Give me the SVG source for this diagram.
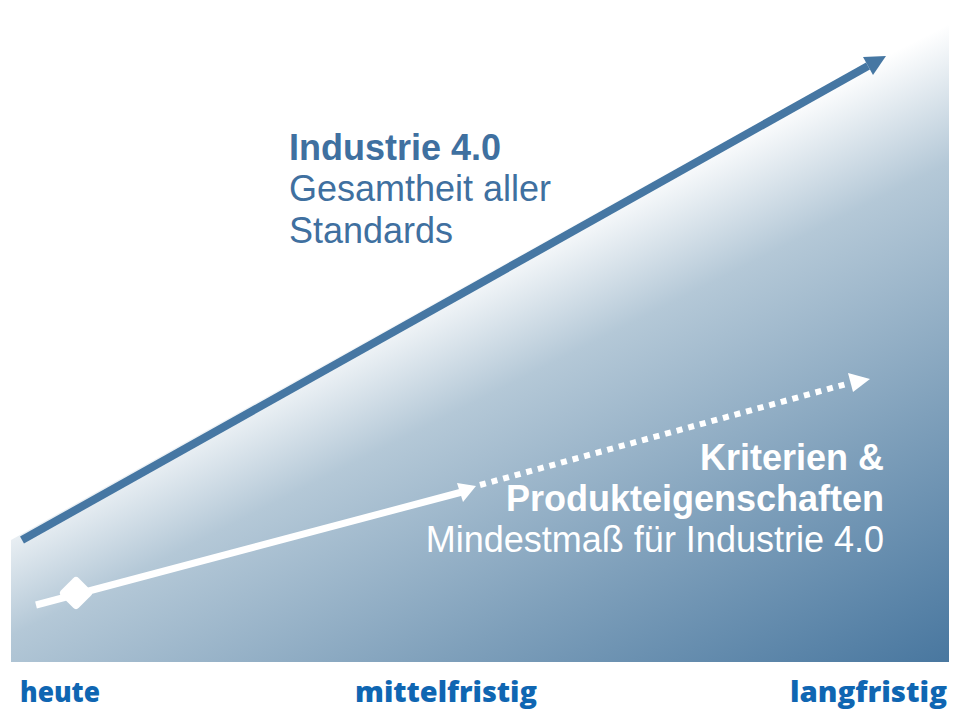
<svg xmlns="http://www.w3.org/2000/svg" width="960" height="711" viewBox="0 0 960 711">
<style>
.t{font-family:"Liberation Sans",Arial,sans-serif;font-size:36px}
.b{font-weight:bold}
.dk{fill:#3f70a0}
.wh{fill:#ffffff}
.lab{font-family:"Open Sans","DejaVu Sans",sans-serif;font-weight:800;font-size:29px;fill:#0f66b2}
</style>
<defs>
<linearGradient id="g" gradientUnits="userSpaceOnUse" x1="203" y1="400" x2="457" y2="904">
<stop offset="0" stop-color="#ffffff"/>
<stop offset="0.22" stop-color="#b4c8d7"/>
<stop offset="0.6" stop-color="#7fa0bb"/>
<stop offset="1" stop-color="#4a78a0"/>
</linearGradient>
</defs>
<rect width="960" height="711" fill="#ffffff"/>
<g id="wedge"><polygon points="11,540 949,15 949,662 11,662" fill="url(#g)"/></g>
<g id="connectors">
<g id="industrie-arrow">
<line x1="22" y1="540" x2="868" y2="66" stroke="#4677a3" stroke-width="8"/>
<polygon points="886,56 863,57 873,75" fill="#4677a3"/>
</g>
<g id="kriterien-arrow">
<line x1="36" y1="605" x2="462" y2="492" stroke="#ffffff" stroke-width="7"/>
<polygon points="476,486 457,483 463,502" fill="#ffffff"/>
<line x1="480" y1="485" x2="850" y2="383" stroke="#ffffff" stroke-width="6" stroke-dasharray="6 6"/>
<polygon points="870,379 848,373 853,392" fill="#ffffff"/>
</g>
</g>
<g id="start-node"><rect x="-12.5" y="-12.5" width="25" height="25" rx="4" fill="#ffffff" transform="translate(76,593) rotate(45)"/></g>
<g id="industrie-label">
<text class="t b dk" x="289" y="160">Industrie 4.0</text>
<text class="t dk" x="289" y="201">Gesamtheit aller</text>
<text class="t dk" x="289" y="243">Standards</text>
</g>
<g id="kriterien-label" text-anchor="end">
<text class="t b wh" x="884" y="470">Kriterien &amp;</text>
<text class="t b wh" x="884" y="511">Produkteigenschaften</text>
<text class="t wh" x="884" y="552">Mindestmaß für Industrie 4.0</text>
</g>
<g id="axis-labels">
<text class="lab" x="20" y="702" textLength="80" lengthAdjust="spacingAndGlyphs">heute</text>
<text class="lab" x="355" y="702" textLength="182" lengthAdjust="spacingAndGlyphs">mittelfristig</text>
<text class="lab" x="790" y="702" textLength="157" lengthAdjust="spacingAndGlyphs">langfristig</text>
</g>
</svg>
